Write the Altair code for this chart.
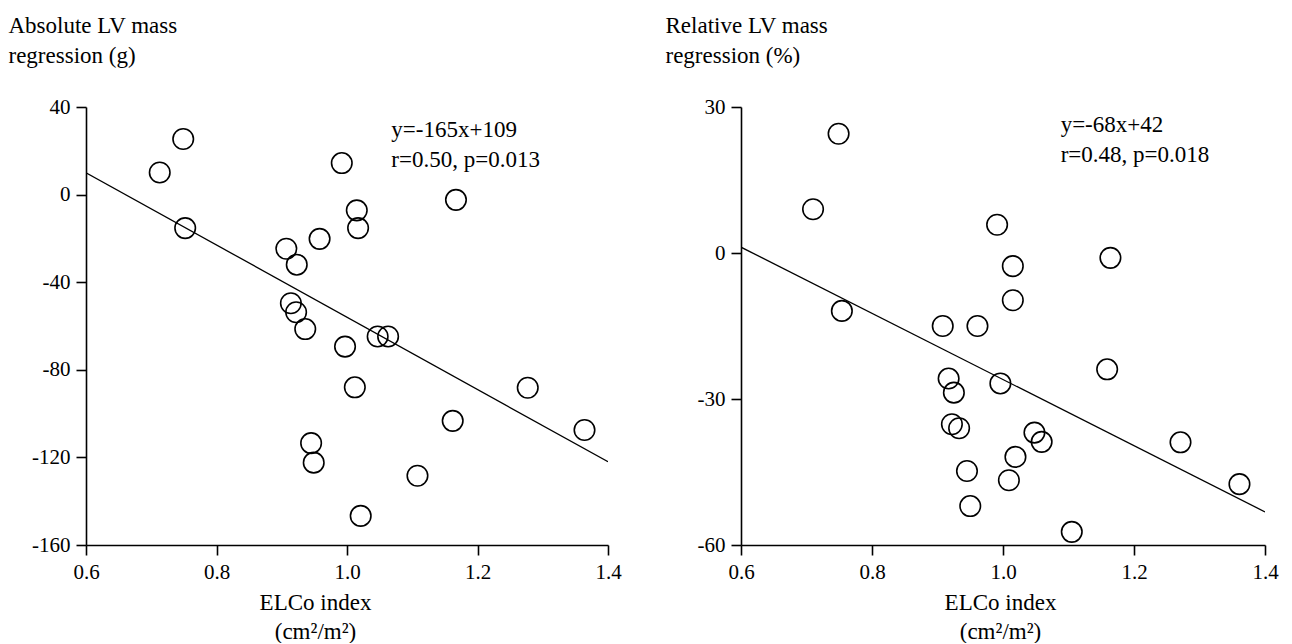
import altair as alt
import pandas as pd

# ---- data ----
elco_abs = [0.713, 0.749, 0.752, 0.907, 0.923, 0.958, 0.992, 1.015, 1.017, 0.914, 0.922, 0.936,
            0.997, 1.047, 1.063, 1.012, 0.945, 0.949, 1.021, 1.167, 1.277, 1.162, 1.364, 1.108]
lvm_abs = [10.1, 25.4, -15.3, -24.7, -32.0, -20.2, 14.4, -7.2, -15.3, -49.6, -53.7, -61.4,
           -69.4, -64.8, -64.8, -88.0, -113.5, -122.4, -146.7, -2.4, -88.2, -103.3, -107.5, -128.4]

elco_rel = [0.749, 0.710, 0.754, 0.908, 0.961, 0.917, 0.925, 0.922, 0.933, 0.945, 0.950, 0.991,
            1.015, 1.015, 1.164, 0.996, 1.159, 1.048, 1.059, 1.019, 1.009, 1.105, 1.271, 1.361]
lvm_rel = [24.5, 9.0, -11.9, -15.0, -15.0, -25.8, -28.7, -35.2, -36.0, -44.8, -52.0, 5.8,
           -2.7, -9.7, -1.0, -26.8, -23.9, -36.9, -38.8, -41.9, -46.7, -57.3, -38.9, -47.5]

x_ticks = [0.6, 0.8, 1.0, 1.2, 1.4]
y_ticks_abs = [40, 0, -40, -80, -120, -160]
y_ticks_rel = [30, 0, -30, -60]

fit_abs = (-165, 109)
fit_rel = (-68, 42)

note_abs = "y=-165x+109\nr=0.50, p=0.013"
note_rel = "y=-68x+42\nr=0.48, p=0.018"

FONT = "Liberation Serif"


def panel(xs, ys, fit, yticks, ytitle, note, note_pos, xtitle_x, ytitle_x, width):
    pts = pd.DataFrame({"x": xs, "y": ys})
    x0, x1 = x_ticks[0], x_ticks[-1]
    line = pd.DataFrame({"x": [x0, x1], "y": [fit[0] * x0 + fit[1], fit[0] * x1 + fit[1]]})
    ann = pd.DataFrame({"x": [note_pos[0]], "y": [note_pos[1]], "t": [note]})

    xscale = alt.Scale(domain=[x0, x1], nice=False, zero=False)
    yscale = alt.Scale(domain=[min(yticks), max(yticks)], nice=False, zero=False)

    xaxis = alt.Axis(values=x_ticks, format=".1f",
                     title=["ELCo index", "(cm\u00b2/m\u00b2)"],
                     titleX=xtitle_x, titleY=64, titleAlign="center",
                     titleBaseline="alphabetic", titleLineHeight=29)
    yaxis = alt.Axis(values=yticks, labelExpr="datum.value + ''",
                     title=ytitle, titleAngle=0, titleAlign="left",
                     titleBaseline="alphabetic", titleX=ytitle_x, titleY=-75,
                     titleLineHeight=30)

    p = alt.Chart(pts).mark_point(shape="circle", filled=False, size=420,
                                  strokeWidth=1.6, color="black", opacity=1).encode(
        x=alt.X("x:Q", scale=xscale, axis=xaxis),
        y=alt.Y("y:Q", scale=yscale, axis=yaxis),
    )
    l = alt.Chart(line).mark_line(color="black", strokeWidth=1.3, clip=True).encode(
        x=alt.X("x:Q", scale=xscale), y=alt.Y("y:Q", scale=yscale))
    t = alt.Chart(ann).mark_text(align="left", baseline="alphabetic", font=FONT,
                                 fontSize=23, lineBreak="\n", lineHeight=30,
                                 color="black").encode(
        x=alt.X("x:Q", scale=xscale), y=alt.Y("y:Q", scale=yscale), text="t:N")
    return alt.layer(p, l, t).properties(width=width, height=438)


left = panel(elco_abs, lvm_abs, fit_abs, y_ticks_abs,
             ["Absolute LV mass", "\u2002regression (g)"], note_abs, (1.068, 26.4),
             229, -78, 522)
right = panel(elco_rel, lvm_rel, fit_rel, y_ticks_rel,
              ["Relative LV mass", "\u2002regression (%)"], note_rel, (1.088, 24.8),
              259, -76, 524)

chart = alt.hconcat(left, right, spacing=133, bounds="flush").properties(
    padding={"left": 0, "top": 6, "right": 0, "bottom": 0}, background="white"
).configure_view(stroke=None).configure_axis(
    grid=False, domainColor="black", domainWidth=1.6, tickColor="black", tickWidth=1.6,
    tickSize=10, labelFont=FONT, labelFontSize=21, labelColor="black", labelPadding=6,
    titleFont=FONT, titleFontSize=23, titleFontWeight="normal", titleColor="black",
    labelFlush=False
)

chart.save("out.html", embed_options={"renderer": "svg", "actions": False})
